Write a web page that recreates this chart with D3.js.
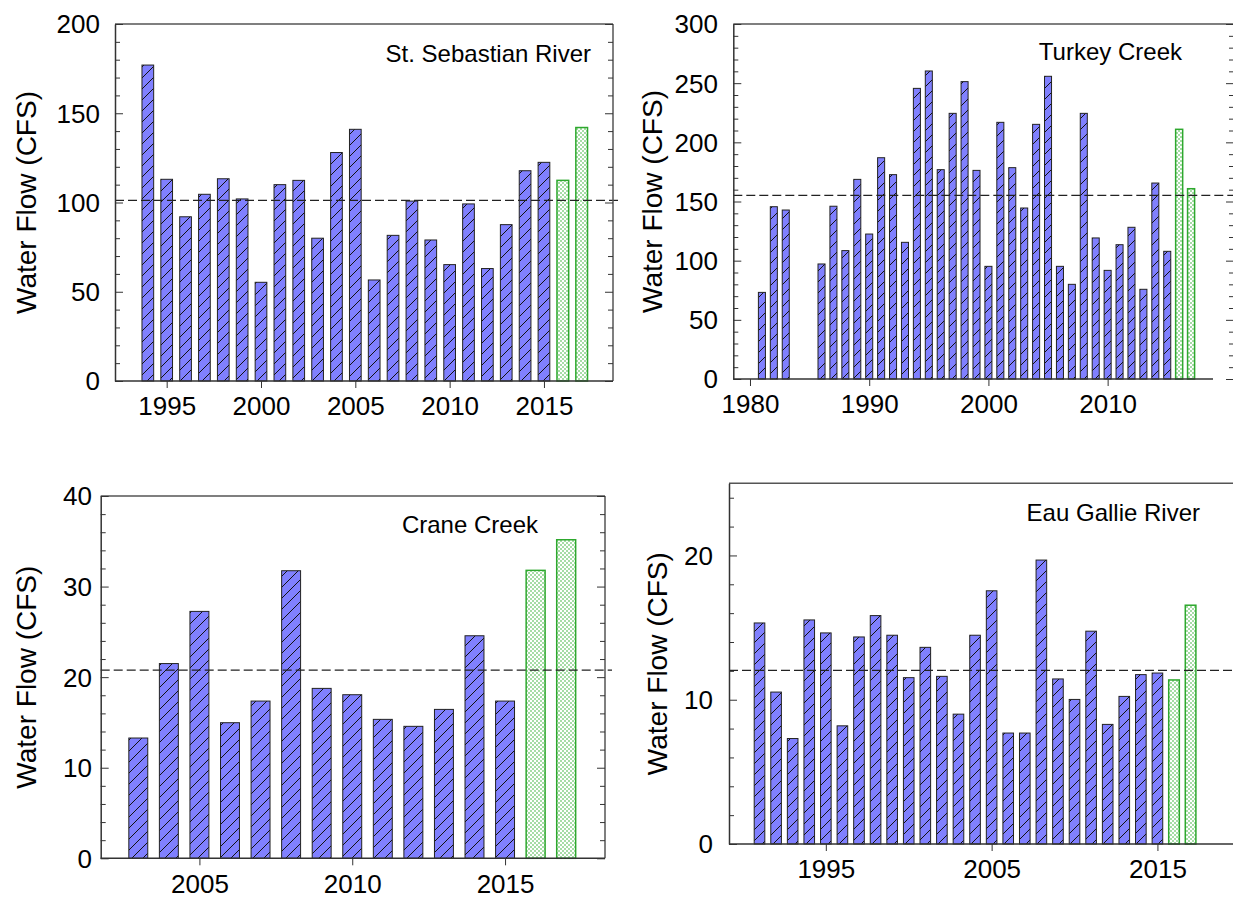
<!DOCTYPE html>
<html><head><meta charset="utf-8">
<script src="https://cdn.jsdelivr.net/npm/d3@7"></script>
<style>
html,body{margin:0;padding:0;background:#fff;}
svg{display:block;font-family:"Liberation Sans",Arial,sans-serif;}
</style></head>
<body>
<svg id="chart" width="1233" height="907"></svg>
<script>
// ---------- DATA ----------
const stSebYears = [1994,1995,1996,1997,1998,1999,2000,2001,2002,2003,2004,2005,2006,2007,2008,2009,2010,2011,2012,2013,2014,2015];
const stSebFlow  = [177,113,92,104.6,113.3,102,55.3,110,112.4,80,128,141,56.6,81.6,100.8,79,65.2,99.2,63,87.6,117.8,122.5];
const stSebNewYears = [2016,2017];
const stSebNewFlow  = [112.4,142];
const stSebMean = 101.2;
const stSebYTicks = [0,50,100,150,200];
const stSebXTicks = [1995,2000,2005,2010,2015];

const turkeyYears = [1981,1982,1983,1986,1987,1988,1989,1990,1991,1992,1993,1994,1995,1996,1997,1998,1999,2000,2001,2002,2003,2004,2005,2006,2007,2008,2009,2010,2011,2012,2013,2014,2015];
const turkeyFlow  = [73.2,145.6,142.8,97.2,146,108.5,168.7,122.5,187,172.7,115.5,245.6,260.3,176.9,224.5,251.3,176.3,95.2,216.9,178.6,144.5,215.2,255.8,95.2,80,224.5,119.2,91.8,113.5,128.2,75.8,165.6,107.9];
const turkeyNewYears = [2016,2017];
const turkeyNewFlow  = [211,160.8];
const turkeyMean = 155.2;
const turkeyYTicks = [0,50,100,150,200,250,300];
const turkeyXTicks = [1980,1990,2000,2010];

const craneYears = [2003,2004,2005,2006,2007,2008,2009,2010,2011,2012,2013,2014,2015];
const craneFlow  = [13.28,21.5,27.26,14.97,17.36,31.75,18.76,18.06,15.34,14.57,16.44,24.57,17.36];
const craneNewYears = [2016,2017];
const craneNewFlow  = [31.79,35.17];
const craneMean = 20.78;
const craneYTicks = [0,10,20,30,40];
const craneXTicks = [2005,2010,2015];

const eauYears = [1991,1992,1993,1994,1995,1996,1997,1998,1999,2000,2001,2002,2003,2004,2005,2006,2007,2008,2009,2010,2011,2012,2013,2014,2015];
const eauFlow  = [15.32,10.53,7.31,15.53,14.63,8.19,14.35,15.83,14.47,11.53,13.63,11.62,9.0,14.47,17.55,7.69,7.69,19.68,11.44,10.02,14.75,8.29,10.23,11.74,11.85];
const eauNewYears = [2016,2017];
const eauNewFlow  = [11.37,16.55];
const eauMean = 12.04;
const eauYTicks = [0,10,20];
const eauXTicks = [1995,2005,2015];

const yTitle = "Water Flow (CFS)";

// ---------- DRAW ----------
const svg = d3.select("#chart");
const defs = svg.append("defs");
const hatch = defs.append("pattern").attr("id","hatch").attr("patternUnits","userSpaceOnUse")
  .attr("width",11).attr("height",11);
hatch.append("rect").attr("width",11).attr("height",11).attr("fill","#8080ff");
hatch.append("path").attr("d","M0,11 L11,0 M-3,3 L3,-3 M8,14 L14,8")
  .attr("stroke","#111").attr("stroke-width",1);
const dots = defs.append("pattern").attr("id","dots").attr("patternUnits","userSpaceOnUse")
  .attr("width",4).attr("height",4);
dots.append("rect").attr("width",4).attr("height",4).attr("fill","#ffffff");
dots.append("rect").attr("x",0).attr("y",0).attr("width",2).attr("height",2).attr("fill","#a6dca6");
dots.append("rect").attr("x",2).attr("y",2).attr("width",2).attr("height",2).attr("fill","#a6dca6");

const panels = [
  {years:stSebYears, flow:stSebFlow, nYears:stSebNewYears, nFlow:stSebNewFlow, mean:stSebMean,
   yTicks:stSebYTicks, yMax:200, minor:10, xTicks:stSebXTicks, name:"St. Sebastian River",
   left:115, right:613, top:24, bottom:381, xd:[1992.26,2018.66], axisEnd:613, rightTicks:true,
   bw:0.62, titleX:591, titleY:62, yTitleX:36, tickLabelX:100},
  {years:turkeyYears, flow:turkeyFlow, nYears:turkeyNewYears, nFlow:turkeyNewFlow, mean:turkeyMean,
   yTicks:turkeyYTicks, yMax:300, minor:10, xTicks:turkeyXTicks, name:"Turkey Creek",
   left:733.3, right:1234, top:24, bottom:379, xd:[1978.6,2020.6], axisEnd:1213, rightTicks:true,
   bw:0.59, titleX:1182, titleY:60, yTitleX:662, tickLabelX:718},
  {years:craneYears, flow:craneFlow, nYears:craneNewYears, nFlow:craneNewFlow, mean:craneMean,
   yTicks:craneYTicks, yMax:40, minor:2, xTicks:craneXTicks, name:"Crane Creek",
   left:100.7, right:605, top:496, bottom:858.3, xd:[2001.77,2018.27], axisEnd:605, rightTicks:true,
   bw:0.62, titleX:538, titleY:533, yTitleX:36, tickLabelX:92},
  {years:eauYears, flow:eauFlow, nYears:eauNewYears, nFlow:eauNewFlow, mean:eauMean,
   yTicks:eauYTicks, yMax:25, minor:2, xTicks:eauXTicks, name:"Eau Gallie River",
   left:729, right:1240, top:483.3, bottom:844, xd:[1989.16,2019.98], axisEnd:1240, rightTicks:false,
   bw:0.64, titleX:1200, titleY:521, yTitleX:667, tickLabelX:713}
];

panels.forEach(p => {
  const g = svg.append("g");
  const x = d3.scaleLinear().domain(p.xd).range([p.left, p.right]);
  const y = d3.scaleLinear().domain([0, p.yMax]).range([p.bottom, p.top]);
  const bw = x(p.xd[0] + p.bw) - x(p.xd[0]);

  // bars
  g.selectAll("rect.obs").data(p.years.map((yr,i)=>({yr, v:p.flow[i]}))).join("rect")
    .attr("class","obs")
    .attr("x", d => x(d.yr) - bw/2).attr("width", bw)
    .attr("y", d => y(d.v)).attr("height", d => y(0) - y(d.v))
    .attr("fill","url(#hatch)").attr("stroke","#222").attr("stroke-width",1);
  g.selectAll("rect.new").data(p.nYears.map((yr,i)=>({yr, v:p.nFlow[i]}))).join("rect")
    .attr("class","new")
    .attr("x", d => x(d.yr) - bw/2).attr("width", bw)
    .attr("y", d => y(d.v)).attr("height", d => y(0) - y(d.v))
    .attr("fill","url(#dots)").attr("stroke","#2ea82e").attr("stroke-width",1.5);

  // mean line
  g.append("line").attr("x1",p.left).attr("x2",Math.min(p.right+7,1233))
    .attr("y1",y(p.mean)).attr("y2",y(p.mean))
    .attr("stroke","#222").attr("stroke-width",1.2).attr("stroke-dasharray","9,4");

  // frame: top and right
  g.append("line").attr("x1",p.left).attr("x2",p.right).attr("y1",p.top).attr("y2",p.top)
    .attr("stroke","#555").attr("stroke-width",1.5);
  g.append("line").attr("x1",p.right).attr("x2",p.right).attr("y1",p.top).attr("y2",p.bottom)
    .attr("stroke","#555").attr("stroke-width",1.5);

  const minorVals = d3.range(0, p.yMax + 0.001, p.minor);

  // left axis (ticks inward)
  const yAxis = d3.axisRight(y).tickValues(minorVals).tickFormat("")
    .tickSizeInner(0).tickSizeOuter(0);
  const la = g.append("g").attr("transform",`translate(${p.left},0)`).call(yAxis);
  la.select(".domain").attr("stroke","#333").attr("stroke-width",1.5);
  la.selectAll(".tick line").attr("x2", d => p.yTicks.includes(d) ? 8 : 5)
    .attr("stroke","#333").attr("stroke-width",1);
  g.selectAll("text.ylab").data(p.yTicks).join("text").attr("class","ylab")
    .attr("x", p.tickLabelX).attr("y", d => y(d)).attr("dy","0.36em")
    .attr("text-anchor","end").attr("font-size",26).attr("fill","#000").text(d => d);

  if (p.rightTicks) {
    const ra = g.append("g").attr("transform",`translate(${p.right},0)`)
      .call(d3.axisLeft(y).tickValues(minorVals).tickFormat("").tickSizeInner(0).tickSizeOuter(0));
    ra.select(".domain").remove();
    ra.selectAll(".tick line").attr("x2", d => p.yTicks.includes(d) ? -8 : -5)
      .attr("stroke","#333").attr("stroke-width",1);
  }

  // bottom axis
  const xa = g.append("g").attr("transform",`translate(0,${p.bottom})`)
    .call(d3.axisBottom(x).tickValues(p.xTicks).tickSizeInner(7).tickSizeOuter(0).tickPadding(9).tickFormat(d3.format("d")));
  xa.select(".domain").attr("d",`M${p.left},0H${p.axisEnd}`).attr("stroke","#333").attr("stroke-width",1.5);
  xa.selectAll(".tick line").attr("stroke","#333");
  xa.selectAll(".tick text").attr("font-size",26).attr("fill","#000")
    .attr("font-family","Liberation Sans, Arial, sans-serif");

  g.append("text").attr("x",p.titleX).attr("y",p.titleY).attr("text-anchor","end")
    .attr("font-size",24).attr("fill","#000").text(p.name);

  g.append("text").attr("transform",`translate(${p.yTitleX},${(p.top+p.bottom)/2}) rotate(-90)`)
    .attr("text-anchor","middle").attr("font-size",28).attr("fill","#000").text(yTitle);
});
</script>
</body></html>
